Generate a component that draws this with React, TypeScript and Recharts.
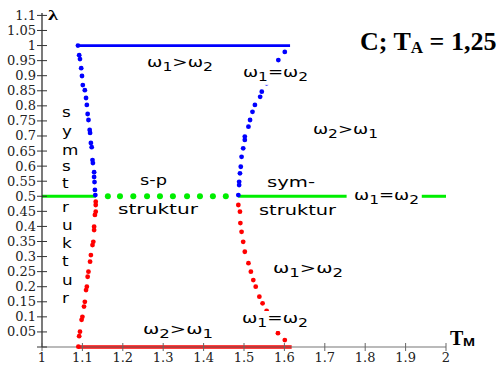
import React from 'react';
import { ComposedChart, Line, Scatter, XAxis, YAxis } from 'recharts';

const xTicks = [1, 1.1, 1.2, 1.3, 1.4, 1.5, 1.6, 1.7, 1.8, 1.9, 2];
const yTicks = [0, 0.05, 0.1, 0.15, 0.2, 0.25, 0.3, 0.35, 0.4, 0.45, 0.5, 0.55, 0.6, 0.65, 0.7, 0.75, 0.8, 0.85, 0.9, 0.95, 1, 1.05, 1.1];

// boundary points as [T_M, lambda]
const leftUpper = [
  [1.089, 1], [1.092, 0.968], [1.094, 0.955], [1.097, 0.925], [1.099, 0.899], [1.101, 0.869],
  [1.106, 0.852], [1.109, 0.826], [1.111, 0.803], [1.113, 0.773], [1.115, 0.753], [1.118, 0.72],
  [1.119, 0.71], [1.121, 0.677], [1.123, 0.663], [1.125, 0.62], [1.126, 0.61], [1.129, 0.58],
  [1.129, 0.564], [1.13, 0.547], [1.131, 0.521], [1.132, 0.504],
];
const leftLower = [
  [1.133, 0.482], [1.133, 0.471], [1.133, 0.449], [1.131, 0.438], [1.129, 0.399], [1.129, 0.388],
  [1.127, 0.349], [1.125, 0.338], [1.121, 0.305], [1.119, 0.283], [1.115, 0.25], [1.113, 0.233],
  [1.111, 0.2], [1.109, 0.189], [1.106, 0.15], [1.104, 0.134], [1.1, 0.1], [1.098, 0.09],
  [1.094, 0.051], [1.092, 0.036], [1.09, 0.001],
];
const rightUpper = [
  [1.601, 0.979], [1.585, 0.952], [1.572, 0.925], [1.565, 0.902], [1.556, 0.875], [1.544, 0.847],
  [1.54, 0.83], [1.527, 0.803], [1.521, 0.78], [1.515, 0.753], [1.511, 0.731], [1.502, 0.698],
  [1.502, 0.687], [1.498, 0.659], [1.494, 0.631], [1.492, 0.598], [1.49, 0.576], [1.488, 0.548],
  [1.488, 0.537], [1.486, 0.504],
];
const rightLower = [
  [1.486, 0.471], [1.49, 0.449], [1.491, 0.411], [1.494, 0.382], [1.498, 0.349], [1.502, 0.316],
  [1.511, 0.278], [1.517, 0.25], [1.523, 0.222], [1.529, 0.2], [1.538, 0.167], [1.546, 0.145],
  [1.556, 0.12], [1.568, 0.096], [1.58, 0.07], [1.584, 0.046], [1.601, 0.023],
];
const spDots = [1.163, 1.193, 1.226, 1.26, 1.292, 1.324, 1.359, 1.391, 1.423, 1.455];
const topEdge = [[1.089, 1], [1.614, 1]];
const bottomEdge = [[1.089, 0], [1.618, 0]];
const symLeft = [[1, 0.5], [1.133, 0.5]];
const symMid = [[1.486, 0.5], [1.754, 0.5]];
const symFar = [[1.94, 0.5], [2, 0.5]];

const pts = (a: number[][]) => a.map(([x, y]) => ({ x, y }));

const BLUE = '#0000ff';
const RED = '#ff0000';
const GREEN = '#00ee00';

type Note = {
  x: number;
  y: number;
  dx?: number;
  dy?: number;
  text?: string;
  rel?: string[];
  w?: number;
  bg?: boolean;
  kind?: 'title' | 'lambda' | 'tm' | 'letter';
};

// "symstruktur" written downwards beside the left boundary
const letterX = 1.0495;
const stack = [
  ['s', 0.762], ['y', 0.7], ['m', 0.637], ['s', 0.584], ['t', 0.528],
  ['r', 0.448], ['u', 0.388], ['k', 0.328], ['t', 0.269], ['u', 0.206], ['r', 0.146],
] as const;

const notes: Note[] = [
  { x: 2, y: 0.9854, dx: -86, kind: 'title' },
  { x: 1, y: 1.1, dx: 6, dy: 4.5, kind: 'lambda' },
  { x: 2, y: 0, dx: 4, dy: -2, kind: 'tm' },
  { x: 1.26, y: 0.929, rel: ['ω', '1', '>', 'ω', '2'], w: 66 },
  { x: 1.4975, y: 0.896, rel: ['ω', '1', '=', 'ω', '2'], w: 65, bg: true },
  { x: 1.6708, y: 0.7067, rel: ['ω', '2', '>', 'ω', '1'], w: 65 },
  { x: 1.7723, y: 0.4877, rel: ['ω', '1', '=', 'ω', '2'], w: 65 },
  { x: 1.5718, y: 0.2455, rel: ['ω', '1', '>', 'ω', '2'], w: 70 },
  { x: 1.495, y: 0.0796, rel: ['ω', '1', '=', 'ω', '2'], w: 66, bg: true },
  { x: 1.25, y: 0.0431, rel: ['ω', '2', '>', 'ω', '1'], w: 70 },
  { x: 1.2426, y: 0.5375, text: 's-p', w: 27 },
  { x: 1.1881, y: 0.4413, text: 'struktur', w: 80 },
  { x: 1.5569, y: 0.5309, text: 'sym-', w: 48 },
  { x: 1.5371, y: 0.438, text: 'struktur', w: 77 },
  ...stack.map(([t, l]) => ({ x: letterX, y: l, text: t, kind: 'letter' as const })),
];

const SANS = 'DejaVu Sans';
const SERIF = 'Liberation Serif';

const renderNote = (props: any) => {
  const { cx, cy, payload } = props;
  if (cx == null || cy == null) return <g />;
  const n: Note = payload;
  const x = cx + (n.dx || 0);
  const y = cy + (n.dy || 0);
  if (n.kind === 'title') {
    return (
      <text x={x} y={y} fontFamily={SERIF} fontWeight="bold" fontSize={26} fill="#000">
        C; T<tspan dy={3} fontSize={17}>A</tspan>
        <tspan dy={-3}> = 1,25</tspan>
      </text>
    );
  }
  if (n.kind === 'lambda') {
    return (
      <text x={x} y={y} fontFamily={SERIF} fontWeight="bold" fontSize={15} textLength={10} lengthAdjust="spacingAndGlyphs" fill="#000">
        λ
      </text>
    );
  }
  if (n.kind === 'tm') {
    return (
      <g>
        <text x={x} y={y} fontFamily={SERIF} fontWeight="bold" fontSize={20} fill="#000">T</text>
        <text x={x + 13} y={y + 1} fontFamily="Liberation Sans" fontWeight="bold" fontSize={11} textLength={12} lengthAdjust="spacingAndGlyphs" fill="#000">M</text>
      </g>
    );
  }
  if (n.kind === 'letter') {
    return (
      <g transform={`translate(${x},${y}) scale(1.2,1)`}>
        <text x={0} y={0} fontFamily={SANS} fontSize={14} fill="#000">{n.text}</text>
      </g>
    );
  }
  if (n.rel) {
    const [a, i, op, b, j] = n.rel;
    return (
      <g>
        {n.bg && <rect x={x - 2} y={y - 12} width={(n.w || 0) + 4} height={20} fill="#fff" />}
        <text x={x} y={y} fontFamily={SANS} fontSize={13.5} fill="#000" textLength={n.w} lengthAdjust="spacingAndGlyphs">
          {a}<tspan dy={4} fontSize={11.5}>{i}</tspan><tspan dy={-4}>{op}</tspan>{b}<tspan dy={4} fontSize={11.5}>{j}</tspan>
        </text>
      </g>
    );
  }
  return (
    <text x={x} y={y} fontFamily={SANS} fontSize={13.5} fill="#000" textLength={n.w} lengthAdjust="spacingAndGlyphs">
      {n.text}
    </text>
  );
};

const fmt = (v: number) => String(+v.toFixed(2));

const XTick = ({ x, y, payload }: any) => (
  <g>
    <line x1={x} x2={x} y1={y - 4} y2={y + 4} stroke="#666" />
    <text x={x} y={y + 15} textAnchor="middle" fontFamily="DejaVu Serif" fontSize={13} fill="#222">
      {fmt(payload.value)}
    </text>
  </g>
);

const YTick = ({ x, y, payload }: any) => (
  <g>
    <line x1={x - 5} x2={x + 5} y1={y} y2={y} stroke="#333" />
    {payload.value > 0 && (
      <text x={x - 6} y={y + 4.5} textAnchor="end" fontFamily="DejaVu Serif" fontSize={13} fill="#222">
        {fmt(payload.value)}
      </text>
    )}
  </g>
);

const dot = (fill: string, r: number) => (p: any) =>
  p.cx == null ? <g /> : <circle cx={p.cx} cy={p.cy} r={r} fill={fill} />;

export default function App() {
  return (
    <div style={{ position: 'absolute', left: 0, top: 0, width: 498, height: 365, background: '#fff' }}>
      <ComposedChart width={498} height={365} margin={{ top: 13, right: 52, bottom: 0, left: 0 }}>
        <XAxis
          type="number"
          dataKey="x"
          domain={[1, 2]}
          ticks={xTicks}
          interval={0}
          height={18}
          tickSize={0}
          tickMargin={0}
          tickLine={false}
          axisLine={{ stroke: '#777', strokeWidth: 1.2 }}
          tick={<XTick />}
        />
        <YAxis
          type="number"
          dataKey="y"
          domain={[0, 1.108]}
          ticks={yTicks}
          interval={0}
          width={42}
          tickSize={0}
          tickMargin={0}
          tickLine={false}
          axisLine={{ stroke: '#222', strokeWidth: 1.2 }}
          tick={<YTick />}
        />
        <Line data={pts(symLeft)} dataKey="y" stroke={GREEN} strokeWidth={3} dot={false} activeDot={false} isAnimationActive={false} />
        <Line data={pts(symMid)} dataKey="y" stroke={GREEN} strokeWidth={3} dot={false} activeDot={false} isAnimationActive={false} />
        <Line data={pts(symFar)} dataKey="y" stroke={GREEN} strokeWidth={3} dot={false} activeDot={false} isAnimationActive={false} />
        <Scatter data={spDots.map((x) => ({ x, y: 0.5 }))} shape={dot(GREEN, 3)} isAnimationActive={false} />
        <Line data={pts(topEdge)} dataKey="y" stroke={BLUE} strokeWidth={2.8} dot={false} activeDot={false} isAnimationActive={false} />
        <Line data={pts(bottomEdge)} dataKey="y" stroke={RED} strokeWidth={3.4} dot={false} activeDot={false} isAnimationActive={false} />
        <Scatter data={pts(leftUpper)} shape={dot(BLUE, 2.4)} isAnimationActive={false} />
        <Scatter data={pts(rightUpper)} shape={dot(BLUE, 2.4)} isAnimationActive={false} />
        <Scatter data={pts(leftLower)} shape={dot(RED, 2.4)} isAnimationActive={false} />
        <Scatter data={pts(rightLower)} shape={dot(RED, 2.4)} isAnimationActive={false} />
        <Scatter data={notes} shape={renderNote} isAnimationActive={false} />
      </ComposedChart>
    </div>
  );
}
